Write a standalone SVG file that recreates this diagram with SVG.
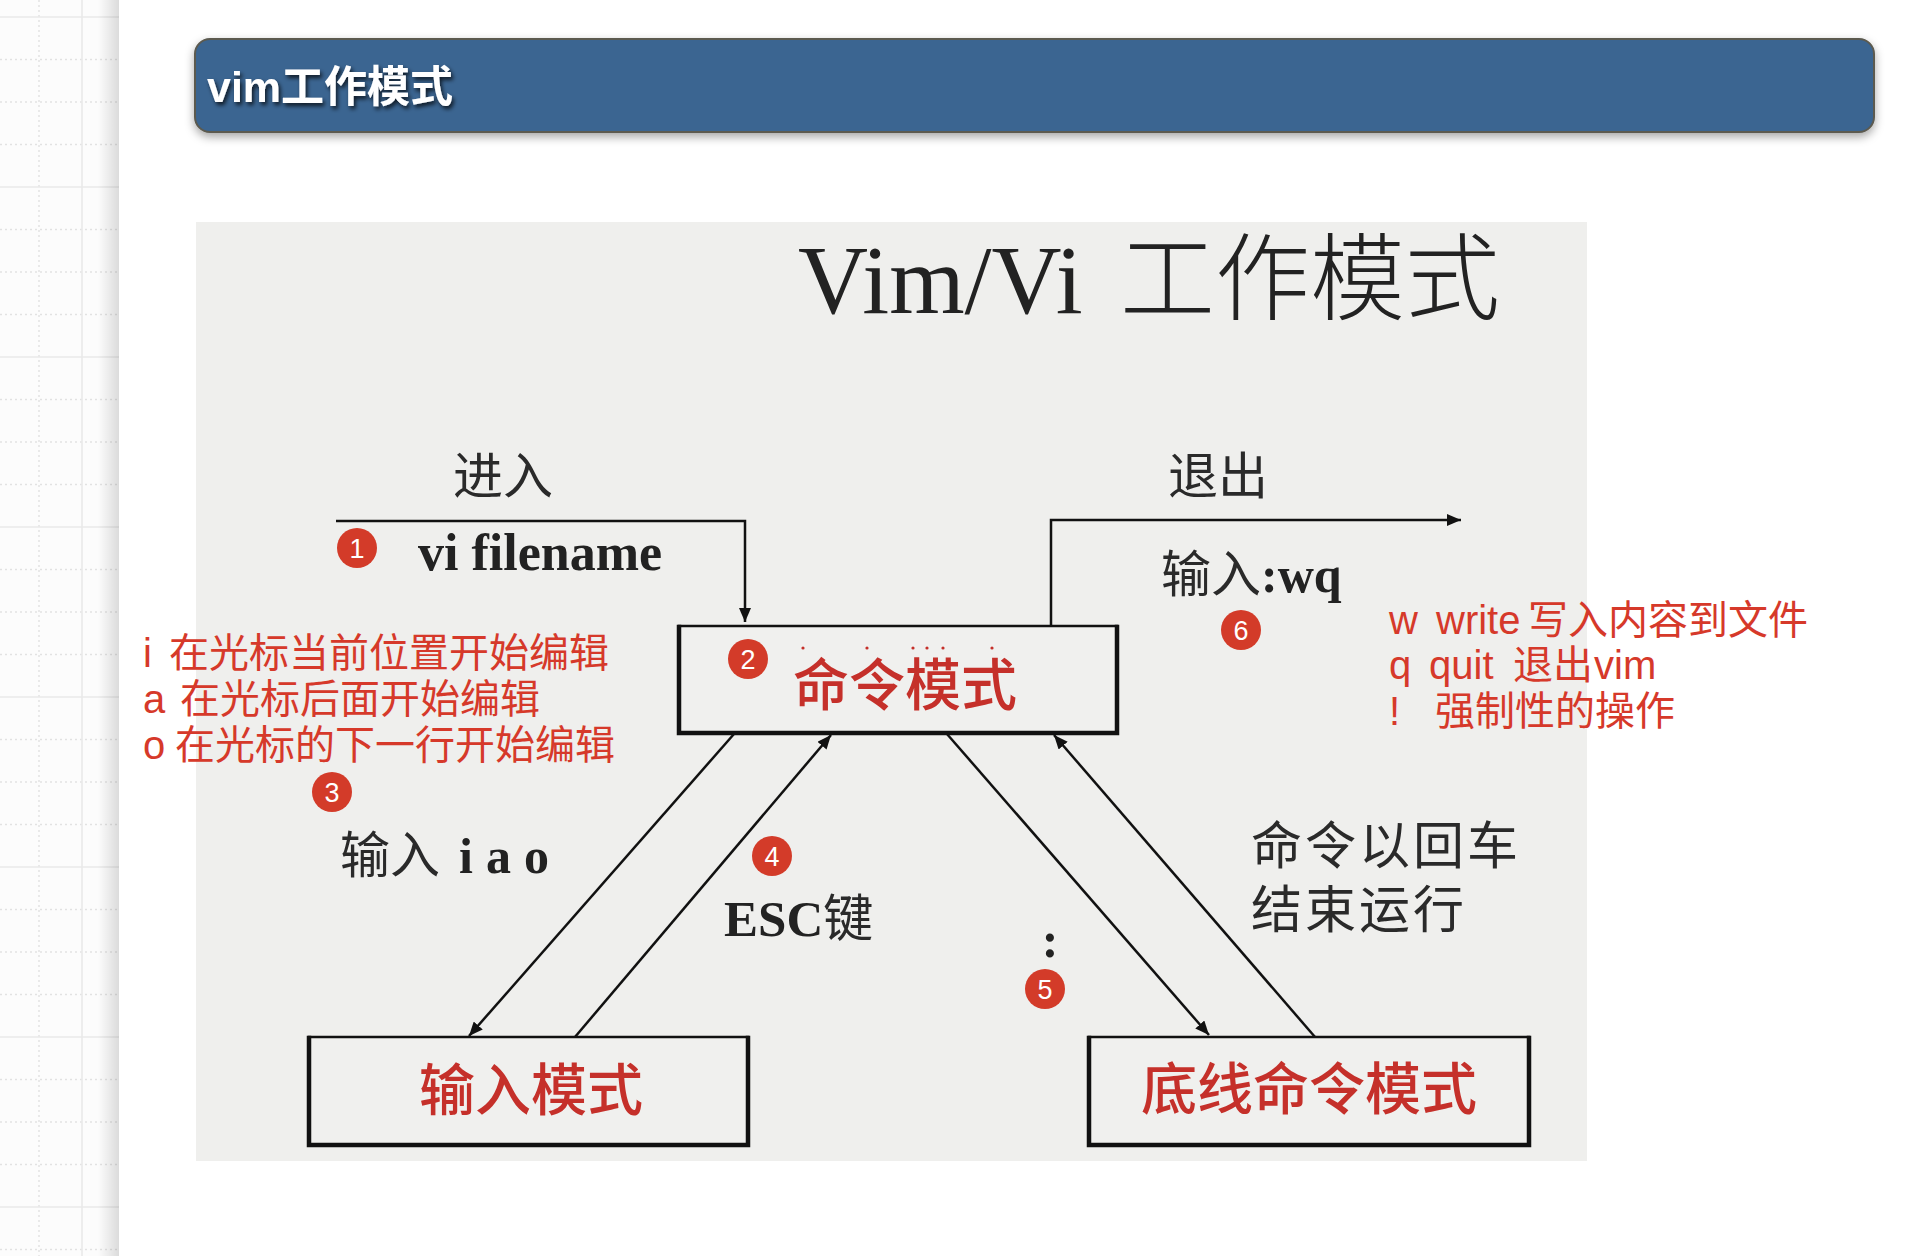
<svg xmlns="http://www.w3.org/2000/svg" width="1910" height="1256" viewBox="0 0 1910 1256">
<defs>
  <style>
    .grid-solid{stroke:#e9e9e9;stroke-width:1.5;fill:none}
    .grid-dot{stroke:#e2e2e2;stroke-width:1.5;stroke-dasharray:2 3;fill:none}
    .box{fill:#f0f0ee;stroke:#111;stroke-width:2.5}
    .boxedge{stroke:#111;stroke-width:4.5;fill:none;stroke-linecap:square}
    .conn{stroke:#111;stroke-width:2.5;fill:none}
    .boxtxt{font-family:"Noto Sans CJK SC","Noto Sans",sans-serif;fill:#c5302a;font-size:56px}
    .cjk{font-family:"Noto Sans CJK SC",sans-serif;fill:#2a2a2a;font-size:50px}
    .cjk2{font-family:"Liberation Sans","Noto Sans CJK SC",sans-serif;fill:#2a2a2a;font-size:51px;letter-spacing:3px}
    .serifb{font-family:"Liberation Serif","Noto Sans CJK SC",serif;font-weight:bold;fill:#222}
    .red{font-family:"Liberation Sans","Noto Sans CJK SC",sans-serif;fill:#d6392a;font-size:40px}
    .badge{fill:#d33b29}
    .badgetxt{font-family:"Liberation Sans",sans-serif;fill:#fff;font-size:27px;text-anchor:middle}
  </style>
  <linearGradient id="sideShadow" x1="0" y1="0" x2="1" y2="0">
    <stop offset="0" stop-color="#000" stop-opacity="0"/>
    <stop offset="1" stop-color="#000" stop-opacity="0.13"/>
  </linearGradient>
  <filter id="barShadow" x="-5%" y="-30%" width="110%" height="170%">
    <feDropShadow dx="0" dy="4" stdDeviation="5" flood-color="#000" flood-opacity="0.35"/>
  </filter>
  <filter id="txtShadow" x="-10%" y="-30%" width="120%" height="170%">
    <feDropShadow dx="2" dy="3" stdDeviation="2" flood-color="#000" flood-opacity="0.75"/>
  </filter>
  <marker id="arrow" markerUnits="userSpaceOnUse" markerWidth="16" markerHeight="12" refX="14" refY="6" orient="auto">
    <path d="M0,0 L14,6 L0,12 z" fill="#111"/>
  </marker>
</defs>

<!-- page background -->
<rect x="0" y="0" width="1910" height="1256" fill="#ffffff"/>

<!-- left sidebar grid -->
<g id="sidebar">
  <rect x="0" y="0" width="119" height="1256" fill="#fcfcfc"/>
  <g class="grid-dot">
    <path d="M39,0 V1256"/>
    <path d="M0,59.5 H119 M0,102 H119 M0,144.5 H119 M0,229.5 H119 M0,272 H119 M0,314.5 H119 M0,399.5 H119 M0,442 H119 M0,484.5 H119 M0,569.5 H119 M0,612 H119 M0,654.5 H119 M0,739.5 H119 M0,782 H119 M0,824.5 H119 M0,909.5 H119 M0,952 H119 M0,994.5 H119 M0,1079.5 H119 M0,1122 H119 M0,1164.5 H119 M0,1249.5 H119"/>
  </g>
  <g class="grid-solid">
    <path d="M82,0 V1256"/>
    <path d="M0,17 H119 M0,187 H119 M0,357 H119 M0,527 H119 M0,697 H119 M0,867 H119 M0,1037 H119 M0,1207 H119"/>
  </g>
  <rect x="98" y="0" width="21" height="1256" fill="url(#sideShadow)"/>
</g>

<!-- header bar -->
<g id="header">
  <rect x="195" y="39" width="1679" height="93" rx="15" ry="15" fill="#3b6591" stroke="#5b5a50" stroke-width="2" filter="url(#barShadow)"/>
  <text x="207" y="102" font-family="'Liberation Sans','Noto Sans CJK SC',sans-serif" font-weight="bold" font-size="43" fill="#ffffff" filter="url(#txtShadow)">vim工作模式</text>
</g>

<!-- diagram panel -->
<rect id="panel" x="196" y="222" width="1391" height="939" fill="#efefed"/>

<!-- title -->
<g id="title">
  <text x="798" y="313" font-family="'Liberation Serif',serif" font-size="97" fill="#222">Vim/Vi</text>
  <text x="1120" y="313" font-family="'Noto Sans CJK SC',sans-serif" font-weight="300" font-size="95" fill="#222">工作模式</text>
</g>

<!-- connectors -->
<g id="connectors">
  <path class="conn" d="M336,521 H745 V622" marker-end="url(#arrow)"/>
  <path class="conn" d="M1051,626 V520 H1461" marker-end="url(#arrow)"/>
  <path class="conn" d="M734,734 L469,1036" marker-end="url(#arrow)"/>
  <path class="conn" d="M575,1037 L831,735" marker-end="url(#arrow)"/>
  <path class="conn" d="M947,734 L1209,1035" marker-end="url(#arrow)"/>
  <path class="conn" d="M1315,1037 L1054,735" marker-end="url(#arrow)"/>
</g>

<!-- nodes -->
<g id="node-command">
  <rect class="box" x="679" y="626" width="438" height="107"/>
  <path class="boxedge" d="M679,627 V733 H1117 V627"/>
  <g fill="#c5302a">
    <circle cx="803" cy="648" r="1.6"/><circle cx="867" cy="648" r="1.6"/>
    <circle cx="913" cy="648" r="1.6"/><circle cx="927" cy="648" r="1.6"/>
    <circle cx="943" cy="648" r="1.6"/><circle cx="992" cy="648" r="1.6"/>
  </g>
  <text class="boxtxt" x="793" y="705" font-weight="500">命令模式</text>
</g>

<g id="node-input">
  <rect class="box" x="309" y="1037" width="439" height="108"/>
  <path class="boxedge" d="M309,1038 V1145 H748 V1038"/>
  <text class="boxtxt" x="419" y="1110" font-size="55" font-weight="500">输入模式</text>
</g>

<g id="node-lastline">
  <rect class="box" x="1089" y="1037" width="440" height="108"/>
  <path class="boxedge" d="M1089,1038 V1145 H1529 V1038"/>
  <text class="boxtxt" x="1141" y="1109" font-size="55" font-weight="500">底线命令模式</text>
</g>

<!-- black labels -->
<g id="labels">
  <text class="cjk" x="453" y="494">进入</text>
  <text class="cjk" x="1168" y="494">退出</text>
  <text class="serifb" x="418" y="570" font-size="52">vi filename</text>
  <text x="1161" y="592"><tspan class="cjk">输入</tspan><tspan class="serifb" font-size="50">:wq</tspan></text>
  <text x="340" y="873"><tspan class="cjk">输入</tspan><tspan class="serifb" font-size="50" x="459">i</tspan><tspan class="serifb" font-size="50" x="486">a</tspan><tspan class="serifb" font-size="50" x="524">o</tspan></text>
  <text x="724" y="936"><tspan class="serifb" font-size="51">ESC</tspan><tspan class="cjk">键</tspan></text>
  <text class="serifb" x="1050" y="957" font-size="50" text-anchor="middle">:</text>
  <text class="cjk2" x="1251" y="864">命令以回车</text>
  <text class="cjk2" x="1251" y="928">结束运行</text>
</g>

<!-- red annotations -->
<g id="notes-left" class="red">
  <text y="667"><tspan x="143">i</tspan><tspan x="169">在光标当前位置开始编辑</tspan></text>
  <text y="713"><tspan x="143">a</tspan><tspan x="180">在光标后面开始编辑</tspan></text>
  <text y="759"><tspan x="143">o</tspan><tspan x="175">在光标的下一行开始编辑</tspan></text>
</g>
<g id="notes-right" class="red">
  <text y="634"><tspan x="1389">w</tspan><tspan x="1436">write</tspan><tspan x="1528">写入内容到文件</tspan></text>
  <text y="679"><tspan x="1389">q</tspan><tspan x="1429">quit</tspan><tspan x="1513">退出</tspan><tspan x="1594">vim</tspan></text>
  <text y="725"><tspan x="1389">!</tspan><tspan x="1435">强制性的操作</tspan></text>
</g>

<!-- numbered badges -->
<g id="badges">
  <g id="badge-1"><circle class="badge" cx="357" cy="548" r="20"/><text class="badgetxt" x="357" y="558">1</text></g>
  <g id="badge-2"><circle class="badge" cx="748" cy="659" r="20"/><text class="badgetxt" x="748" y="669">2</text></g>
  <g id="badge-3"><circle class="badge" cx="332" cy="792" r="20"/><text class="badgetxt" x="332" y="802">3</text></g>
  <g id="badge-4"><circle class="badge" cx="772" cy="856" r="20"/><text class="badgetxt" x="772" y="866">4</text></g>
  <g id="badge-5"><circle class="badge" cx="1045" cy="989" r="20"/><text class="badgetxt" x="1045" y="999">5</text></g>
  <g id="badge-6"><circle class="badge" cx="1241" cy="630" r="20"/><text class="badgetxt" x="1241" y="640">6</text></g>
</g>
</svg>
